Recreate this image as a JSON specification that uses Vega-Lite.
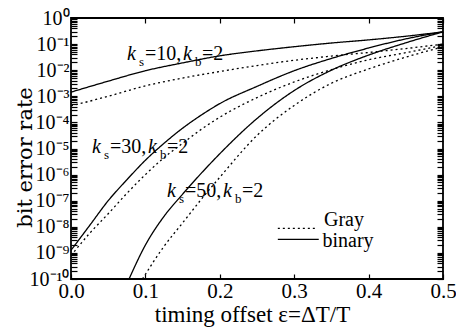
{
  "$schema": "https://vega.github.io/schema/vega-lite/v6.json",
  "width": 372,
  "height": 261,
  "autosize": {"type": "none"},
  "padding": {"left": 71, "top": 18, "right": 13, "bottom": 48},
  "background": "white",
  "config": {
    "view": {"stroke": "black", "strokeWidth": 1.8},
    "axis": {"grid": false, "domain": false, "labelFont": "Liberation Serif", "titleFont": "Liberation Serif", "labelColor": "black", "titleColor": "black", "tickColor": "black", "titleFontWeight": "normal", "tickWidth": 1.2}
  },
  "datasets": {
    "curves": [
      {"e": 0, "ber": 1.445e-3, "ks": 10, "code": "binary"},
      {"e": 0.05, "ber": 3.8e-3, "ks": 10, "code": "binary"},
      {"e": 0.1, "ber": 9.55e-3, "ks": 10, "code": "binary"},
      {"e": 0.15, "ber": 1.905e-2, "ks": 10, "code": "binary"},
      {"e": 0.2, "ber": 3.55e-2, "ks": 10, "code": "binary"},
      {"e": 0.25, "ber": 5.5e-2, "ks": 10, "code": "binary"},
      {"e": 0.3, "ber": 7.94e-2, "ks": 10, "code": "binary"},
      {"e": 0.35, "ber": 0.11, "ks": 10, "code": "binary"},
      {"e": 0.4, "ber": 0.145, "ks": 10, "code": "binary"},
      {"e": 0.45, "ber": 0.2, "ks": 10, "code": "binary"},
      {"e": 0.5, "ber": 0.295, "ks": 10, "code": "binary"},
      {"e": 0, "ber": 4.27e-4, "ks": 10, "code": "Gray"},
      {"e": 0.05, "ber": 1e-3, "ks": 10, "code": "Gray"},
      {"e": 0.1, "ber": 2.51e-3, "ks": 10, "code": "Gray"},
      {"e": 0.15, "ber": 5.0e-3, "ks": 10, "code": "Gray"},
      {"e": 0.2, "ber": 8.9e-3, "ks": 10, "code": "Gray"},
      {"e": 0.25, "ber": 1.51e-2, "ks": 10, "code": "Gray"},
      {"e": 0.3, "ber": 2.4e-2, "ks": 10, "code": "Gray"},
      {"e": 0.35, "ber": 3.47e-2, "ks": 10, "code": "Gray"},
      {"e": 0.4, "ber": 4.79e-2, "ks": 10, "code": "Gray"},
      {"e": 0.45, "ber": 6.76e-2, "ks": 10, "code": "Gray"},
      {"e": 0.5, "ber": 0.1, "ks": 10, "code": "Gray"},
      {"e": 0, "ber": 1.26e-9, "ks": 30, "code": "binary"},
      {"e": 0.025, "ber": 1.12e-8, "ks": 30, "code": "binary"},
      {"e": 0.05, "ber": 1e-7, "ks": 30, "code": "binary"},
      {"e": 0.075, "ber": 6.3e-7, "ks": 30, "code": "binary"},
      {"e": 0.1, "ber": 3.55e-6, "ks": 30, "code": "binary"},
      {"e": 0.125, "ber": 1.58e-5, "ks": 30, "code": "binary"},
      {"e": 0.15, "ber": 6.0e-5, "ks": 30, "code": "binary"},
      {"e": 0.175, "ber": 1.9e-4, "ks": 30, "code": "binary"},
      {"e": 0.2, "ber": 5.25e-4, "ks": 30, "code": "binary"},
      {"e": 0.25, "ber": 2.4e-3, "ks": 30, "code": "binary"},
      {"e": 0.3, "ber": 9.55e-3, "ks": 30, "code": "binary"},
      {"e": 0.35, "ber": 2.82e-2, "ks": 30, "code": "binary"},
      {"e": 0.4, "ber": 7.08e-2, "ks": 30, "code": "binary"},
      {"e": 0.45, "ber": 0.158, "ks": 30, "code": "binary"},
      {"e": 0.5, "ber": 0.295, "ks": 30, "code": "binary"},
      {"e": 0, "ber": 7.9e-10, "ks": 30, "code": "Gray"},
      {"e": 0.025, "ber": 5.6e-9, "ks": 30, "code": "Gray"},
      {"e": 0.05, "ber": 3.16e-8, "ks": 30, "code": "Gray"},
      {"e": 0.075, "ber": 1.9e-7, "ks": 30, "code": "Gray"},
      {"e": 0.1, "ber": 1e-6, "ks": 30, "code": "Gray"},
      {"e": 0.125, "ber": 4.47e-6, "ks": 30, "code": "Gray"},
      {"e": 0.15, "ber": 1.58e-5, "ks": 30, "code": "Gray"},
      {"e": 0.175, "ber": 5.4e-5, "ks": 30, "code": "Gray"},
      {"e": 0.2, "ber": 1.58e-4, "ks": 30, "code": "Gray"},
      {"e": 0.25, "ber": 8.9e-4, "ks": 30, "code": "Gray"},
      {"e": 0.3, "ber": 3.55e-3, "ks": 30, "code": "Gray"},
      {"e": 0.35, "ber": 1.05e-2, "ks": 30, "code": "Gray"},
      {"e": 0.4, "ber": 2.51e-2, "ks": 30, "code": "Gray"},
      {"e": 0.45, "ber": 4.68e-2, "ks": 30, "code": "Gray"},
      {"e": 0.5, "ber": 8.9e-2, "ks": 30, "code": "Gray"},
      {"e": 0.078, "ber": 1e-10, "ks": 50, "code": "binary"},
      {"e": 0.1, "ber": 2e-9, "ks": 50, "code": "binary"},
      {"e": 0.125, "ber": 2.51e-8, "ks": 50, "code": "binary"},
      {"e": 0.15, "ber": 1.78e-7, "ks": 50, "code": "binary"},
      {"e": 0.175, "ber": 1.12e-6, "ks": 50, "code": "binary"},
      {"e": 0.2, "ber": 6.3e-6, "ks": 50, "code": "binary"},
      {"e": 0.25, "ber": 1.41e-4, "ks": 50, "code": "binary"},
      {"e": 0.3, "ber": 1.66e-3, "ks": 50, "code": "binary"},
      {"e": 0.35, "ber": 1e-2, "ks": 50, "code": "binary"},
      {"e": 0.4, "ber": 3.8e-2, "ks": 50, "code": "binary"},
      {"e": 0.45, "ber": 0.112, "ks": 50, "code": "binary"},
      {"e": 0.5, "ber": 0.295, "ks": 50, "code": "binary"},
      {"e": 0.096, "ber": 1e-10, "ks": 50, "code": "Gray"},
      {"e": 0.125, "ber": 1.78e-9, "ks": 50, "code": "Gray"},
      {"e": 0.15, "ber": 1.41e-8, "ks": 50, "code": "Gray"},
      {"e": 0.175, "ber": 1.12e-7, "ks": 50, "code": "Gray"},
      {"e": 0.2, "ber": 7.9e-7, "ks": 50, "code": "Gray"},
      {"e": 0.25, "ber": 3.16e-5, "ks": 50, "code": "Gray"},
      {"e": 0.3, "ber": 4.47e-4, "ks": 50, "code": "Gray"},
      {"e": 0.35, "ber": 3.16e-3, "ks": 50, "code": "Gray"},
      {"e": 0.4, "ber": 1.12e-2, "ks": 50, "code": "Gray"},
      {"e": 0.45, "ber": 3.16e-2, "ks": 50, "code": "Gray"},
      {"e": 0.5, "ber": 7.9e-2, "ks": 50, "code": "Gray"}
    ],
    "labels": [
      {"x": 0.0753, "y": 0.0246, "a": "=10,"},
      {"x": 0.0282, "y": 6.7e-6, "a": "=30,"},
      {"x": 0.129, "y": 1.38e-7, "a": "=50,"}
    ],
    "legend": [
      {"code": "Gray", "x": 0.278, "x2": 0.331, "y": 8.7e-9, "tx": 0.34, "ty": 1.08e-8},
      {"code": "binary", "x": 0.278, "x2": 0.333, "y": 3.3e-9, "tx": 0.338, "ty": 1.62e-9}
    ]
  },
  "resolve": {"axis": {"x": "independent", "y": "independent"}},
  "layer": [
    {
      "data": {"name": "curves"},
      "mark": {"type": "line", "interpolate": "monotone", "strokeWidth": 1.3, "clip": true, "color": "black"},
      "encoding": {
        "x": {"field": "e", "type": "quantitative", "scale": {"domain": [0, 0.5], "nice": false},
          "axis": {"orient": "bottom", "values": [0, 0.1, 0.2, 0.3, 0.4, 0.5], "format": ".1f", "tickSize": -5, "labelPadding": 23, "labelBaseline": "alphabetic", "labelFontSize": 21, "labelFlush": false, "labelOverlap": false,
            "title": "timing offset ε=ΔT/T", "titleFontSize": 23, "titleX": 181, "titleY": 42, "titleBaseline": "alphabetic",
            "encode": {"labels": {"update": {"dx": {"signal": "datum.value === 0 ? 16 : -6"}}}}}},
        "y": {"field": "ber", "type": "quantitative", "scale": {"type": "log", "domain": [1e-10, 1], "nice": false},
          "axis": {"orient": "left",
            "values": [1e-10, 2e-10, 3e-10, 4e-10, 5e-10, 6e-10, 7e-10, 8e-10, 9e-10, 1e-9, 2e-9, 3e-9, 4e-9, 5e-9, 6e-9, 7e-9, 8e-9, 9e-9, 1e-8, 2e-8, 3e-8, 4e-8, 5e-8, 6e-8, 7e-8, 8e-8, 9e-8, 1e-7, 2e-7, 3e-7, 4e-7, 5e-7, 6e-7, 7e-7, 8e-7, 9e-7, 1e-6, 2e-6, 3e-6, 4e-6, 5e-6, 6e-6, 7e-6, 8e-6, 9e-6, 1e-5, 2e-5, 3e-5, 4e-5, 5e-5, 6e-5, 7e-5, 8e-5, 9e-5, 1e-4, 2e-4, 3e-4, 4e-4, 5e-4, 6e-4, 7e-4, 8e-4, 9e-4, 1e-3, 2e-3, 3e-3, 4e-3, 5e-3, 6e-3, 7e-3, 8e-3, 9e-3, 1e-2, 2e-2, 3e-2, 4e-2, 5e-2, 6e-2, 7e-2, 8e-2, 9e-2, 0.1, 0.2, 0.3, 0.4, 0.5, 0.6, 0.7, 0.8, 0.9, 1],
            "tickSize": -6, "labelPadding": 8, "labelFontSize": 20, "labelOverlap": false, "labelFlush": false,
            "labelExpr": "abs(log(datum.value)/LN10 - round(log(datum.value)/LN10)) < 0.001 ? ['10⁰','10⁻¹','10⁻²','10⁻³','10⁻⁴','10⁻⁵','10⁻⁶','10⁻⁷','10⁻⁸','10⁻⁹','10⁻¹⁰'][round(-log(datum.value)/LN10)] : ''",
            "title": "bit error rate", "titleFont": "DejaVu Serif", "titleFontSize": 21, "titleX": -46, "titleY": 139, "titleBaseline": "middle", "titleAngle": -90,
            "encode": {
              "labels": {"update": {"dy": {"signal": "datum.value < 1.5e-10 ? -3 : 0"}}},
              "ticks": {"update": {"x2": {"signal": "abs(log(datum.value)/LN10 - round(log(datum.value)/LN10)) < 0.001 ? 6 : 3"}}}}}},
        "detail": {"field": "ks", "type": "nominal"},
        "strokeDash": {"field": "code", "type": "nominal", "scale": {"domain": ["Gray", "binary"], "range": [[2, 3], [1, 0]]}, "legend": null}
      }
    },
    {
      "data": {"name": "curves"},
      "mark": {"type": "point", "opacity": 0},
      "encoding": {
        "x": {"field": "e", "type": "quantitative", "scale": {"domain": [0, 0.5], "nice": false},
          "axis": {"orient": "top", "values": [0, 0.1, 0.2, 0.3, 0.4, 0.5], "tickSize": -5, "labels": false, "title": null}},
        "y": {"field": "ber", "type": "quantitative", "scale": {"type": "log", "domain": [1e-10, 1], "nice": false},
          "axis": {"orient": "right",
            "values": [1e-10, 2e-10, 3e-10, 4e-10, 5e-10, 6e-10, 7e-10, 8e-10, 9e-10, 1e-9, 2e-9, 3e-9, 4e-9, 5e-9, 6e-9, 7e-9, 8e-9, 9e-9, 1e-8, 2e-8, 3e-8, 4e-8, 5e-8, 6e-8, 7e-8, 8e-8, 9e-8, 1e-7, 2e-7, 3e-7, 4e-7, 5e-7, 6e-7, 7e-7, 8e-7, 9e-7, 1e-6, 2e-6, 3e-6, 4e-6, 5e-6, 6e-6, 7e-6, 8e-6, 9e-6, 1e-5, 2e-5, 3e-5, 4e-5, 5e-5, 6e-5, 7e-5, 8e-5, 9e-5, 1e-4, 2e-4, 3e-4, 4e-4, 5e-4, 6e-4, 7e-4, 8e-4, 9e-4, 1e-3, 2e-3, 3e-3, 4e-3, 5e-3, 6e-3, 7e-3, 8e-3, 9e-3, 1e-2, 2e-2, 3e-2, 4e-2, 5e-2, 6e-2, 7e-2, 8e-2, 9e-2, 0.1, 0.2, 0.3, 0.4, 0.5, 0.6, 0.7, 0.8, 0.9, 1],
            "tickSize": -6, "labels": false, "title": null,
            "encode": {"ticks": {"update": {"x2": {"signal": "abs(log(datum.value)/LN10 - round(log(datum.value)/LN10)) < 0.001 ? -6 : -3"}}}}}}
      }
    },
    {
      "data": {"name": "labels"},
      "mark": {"type": "text", "text": "k", "font": "Liberation Serif", "fontStyle": "italic", "fontSize": 20, "align": "left", "baseline": "alphabetic", "color": "black"},
      "encoding": {
        "x": {"field": "x", "type": "quantitative", "scale": {"domain": [0, 0.5], "nice": false}, "axis": null},
        "y": {"field": "y", "type": "quantitative", "scale": {"type": "log", "domain": [1e-10, 1], "nice": false}, "axis": null}
      }
    },
    {
      "data": {"name": "labels"},
      "mark": {"type": "text", "text": "s", "font": "Liberation Serif", "fontSize": 13, "align": "left", "baseline": "alphabetic", "dx": 12, "dy": 6, "color": "black"},
      "encoding": {
        "x": {"field": "x", "type": "quantitative", "scale": {"domain": [0, 0.5], "nice": false}, "axis": null},
        "y": {"field": "y", "type": "quantitative", "scale": {"type": "log", "domain": [1e-10, 1], "nice": false}, "axis": null}
      }
    },
    {
      "data": {"name": "labels"},
      "mark": {"type": "text", "font": "Liberation Serif", "fontSize": 20, "align": "left", "baseline": "alphabetic", "dx": 18, "color": "black"},
      "encoding": {
        "text": {"field": "a"},
        "x": {"field": "x", "type": "quantitative", "scale": {"domain": [0, 0.5], "nice": false}, "axis": null},
        "y": {"field": "y", "type": "quantitative", "scale": {"type": "log", "domain": [1e-10, 1], "nice": false}, "axis": null}
      }
    },
    {
      "data": {"name": "labels"},
      "mark": {"type": "text", "text": "k", "font": "Liberation Serif", "fontStyle": "italic", "fontSize": 20, "align": "left", "baseline": "alphabetic", "dx": 56, "color": "black"},
      "encoding": {
        "x": {"field": "x", "type": "quantitative", "scale": {"domain": [0, 0.5], "nice": false}, "axis": null},
        "y": {"field": "y", "type": "quantitative", "scale": {"type": "log", "domain": [1e-10, 1], "nice": false}, "axis": null}
      }
    },
    {
      "data": {"name": "labels"},
      "mark": {"type": "text", "text": "b", "font": "Liberation Serif", "fontSize": 13, "align": "left", "baseline": "alphabetic", "dx": 68, "dy": 6, "color": "black"},
      "encoding": {
        "x": {"field": "x", "type": "quantitative", "scale": {"domain": [0, 0.5], "nice": false}, "axis": null},
        "y": {"field": "y", "type": "quantitative", "scale": {"type": "log", "domain": [1e-10, 1], "nice": false}, "axis": null}
      }
    },
    {
      "data": {"name": "labels"},
      "mark": {"type": "text", "text": "=2", "font": "Liberation Serif", "fontSize": 20, "align": "left", "baseline": "alphabetic", "dx": 75, "color": "black"},
      "encoding": {
        "x": {"field": "x", "type": "quantitative", "scale": {"domain": [0, 0.5], "nice": false}, "axis": null},
        "y": {"field": "y", "type": "quantitative", "scale": {"type": "log", "domain": [1e-10, 1], "nice": false}, "axis": null}
      }
    },
    {
      "data": {"name": "legend"},
      "mark": {"type": "rule", "strokeWidth": 1.3, "color": "black"},
      "encoding": {
        "x": {"field": "x", "type": "quantitative", "scale": {"domain": [0, 0.5], "nice": false}, "axis": null},
        "x2": {"field": "x2"},
        "y": {"field": "y", "type": "quantitative", "scale": {"type": "log", "domain": [1e-10, 1], "nice": false}, "axis": null},
        "strokeDash": {"field": "code", "type": "nominal", "scale": {"domain": ["Gray", "binary"], "range": [[2, 3], [1, 0]]}, "legend": null}
      }
    },
    {
      "data": {"name": "legend"},
      "mark": {"type": "text", "font": "Liberation Serif", "fontSize": 20, "align": "left", "baseline": "alphabetic", "color": "black"},
      "encoding": {
        "text": {"field": "code"},
        "x": {"field": "tx", "type": "quantitative", "scale": {"domain": [0, 0.5], "nice": false}, "axis": null},
        "y": {"field": "ty", "type": "quantitative", "scale": {"type": "log", "domain": [1e-10, 1], "nice": false}, "axis": null}
      }
    }
  ]
}
